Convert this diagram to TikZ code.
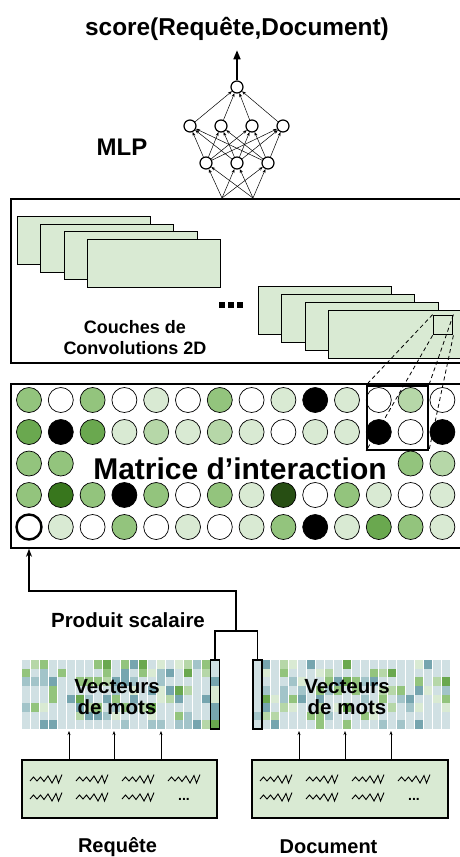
\documentclass[tikz,border=0pt]{standalone}
\usepackage{fontspec}
\setmainfont{Liberation Sans}
\usetikzlibrary{arrows.meta}

% couleurs
\definecolor{gA}{HTML}{D9EAD3}
\definecolor{gB}{HTML}{B6D7A8}
\definecolor{gC}{HTML}{93C47D}
\definecolor{gD}{HTML}{6AA84F}
\definecolor{gE}{HTML}{38761D}
\definecolor{gF}{HTML}{274E13}
\definecolor{tA}{HTML}{D0E0E3}
\definecolor{tB}{HTML}{A2C4C9}
\definecolor{tC}{HTML}{76A5AF}
\colorlet{dotw}{white}
\colorlet{dotk}{black}
\colorlet{dota}{gA}
\colorlet{dotb}{gB}
\colorlet{dotc}{gC}
\colorlet{dotd}{gD}
\colorlet{dote}{gE}
\colorlet{dotf}{gF}

\newcommand{\bsize}[1]{\bfseries\fontsize{#1}{#1}\selectfont}

\begin{document}
\begin{tikzpicture}[x=1pt,y=-1pt,
  neuron/.style={circle,draw,line width=1.2pt,fill=white,minimum size=12pt,inner sep=0pt},
  syn/.style={line width=0.5pt,-{Stealth[length=4pt,width=3pt]}},
  bigarr/.style={line width=1.6pt,-{Triangle[length=9pt,width=7pt]}},
  panel/.style={draw,line width=1.8pt,fill=white,inner sep=0pt,anchor=north west},
  fmap/.style={draw,line width=1pt,fill=gA,minimum width=133pt,minimum height=48pt,inner sep=0pt,anchor=north west},
  dot/.style={circle,draw,line width=0.7pt,minimum size=25pt,inner sep=0pt},
  winbox/.style={draw,line width=1.8pt,inner sep=0pt},
  proj/.style={line width=0.8pt,dash pattern=on 4pt off 3pt},
  hl/.style={draw,line width=1.8pt,minimum width=9pt,minimum height=69pt,inner sep=0pt},
  link/.style={line width=1.4pt},
  txtbox/.style={draw,line width=1.8pt,fill=gA,minimum height=58pt,inner sep=0pt,anchor=north west},
  thinarr/.style={line width=0.6pt,-{Stealth[length=4pt,width=3pt]}},
  wave/.pic={\draw[line width=0.9pt,line join=miter] (0,2) -- (3.5,-2) -- (7,2) -- (10.5,-2) -- (14,2.5) -- (18,-3) -- (22,4) -- (26,-3.5) -- (28.5,4) -- (32,-4.5);}
]
\useasboundingbox (0,0) rectangle (459,857);

% MLP
\node[anchor=base,inner sep=0pt,font=\bsize{24.4}] (score) at (237,35) {score(Requête,Document)};
\node[anchor=base,inner sep=0pt,font=\bsize{24}] (mlp) at (122,155) {MLP};
\node[neuron] (o1) at (237,87) {};
\foreach \x [count=\i] in {190,221,252,283}
  \node[neuron] (h\i) at (\x,126) {};
\foreach \x [count=\i] in {206,237,268}
  \node[neuron] (b\i) at (\x,163) {};
\coordinate (in1) at (222,198);
\coordinate (in2) at (253,198);
\draw[bigarr,shorten >=10pt] (o1) -- (o1 |- score.south);
\foreach \i in {1,...,4}
  \draw[syn] (h\i) -- (o1);
\foreach \i in {1,...,3}
  \foreach \j in {1,...,4}
    \draw[syn] (b\i) -- (h\j);
\foreach \k in {1,2}
  \foreach \i in {1,...,3}
    \draw[syn] (in\k) -- (b\i);

% couches de convolution
\node[panel,minimum width=470pt,minimum height=164pt] (conv) at (10,198) {};
\foreach \i in {0,...,3}
  \node[fmap] (fa\i) at ({17+23.3*\i},{216+7.7*\i}) {};
\foreach \i in {0,...,3}
  \node[fmap] (fb\i) at ({258+23.3*\i},{286+8*\i}) {};
\node[winbox,minimum size=19pt] (win) at (443,325) {};
\foreach \x in {222,231,240}
  \fill (\x-3,302) rectangle ++(6,6);
\node[align=center,inner sep=0pt,font=\bsize{18}] (convlbl) at (135,338) {Couches de\\[3pt]Convolutions 2D};

% matrice d'interaction
\node[panel,minimum width=470pt,minimum height=164pt] (mat) at (10,383) {};
\foreach \c [count=\j] in {c,w,c,w,a,w,c,w,a,k,a,w,b,w}
  \node[dot,fill=dot\c] (r1c\j) at ({29+31.8*(\j-1)},400) {};
\foreach \c [count=\j] in {d,k,d,a,b,a,b,a,w,a,a,k,w,k}
  \node[dot,fill=dot\c] (r2c\j) at ({29+31.8*(\j-1)},432) {};
\foreach \j/\c in {1/c,2/c,13/c,14/b}
  \node[dot,fill=dot\c] (r3c\j) at ({29+31.8*(\j-1)},463.5) {};
\foreach \c [count=\j] in {c,e,c,k,c,w,c,a,f,w,c,a,w,a}
  \node[dot,fill=dot\c] (r4c\j) at ({29+31.8*(\j-1)},495) {};
\foreach \c [count=\j] in {w,a,w,c,w,a,w,a,c,k,a,d,c,a}
  \node[dot,fill=dot\c] (r5c\j) at ({29+31.8*(\j-1)},527) {};
\node[dot,line width=2.4pt] at (r5c1) {};
\node[anchor=base,inner sep=0pt,font=\bsize{30}] (matlbl) at (240,479) {Matrice d’interaction};
\node[winbox,minimum width=61pt,minimum height=64pt] (bigwin) at (397.5,418) {};
\draw[proj] (win.north west) -- (bigwin.north west);
\draw[proj] (win.south west) -- (bigwin.south west);
\draw[proj] (win.north east) -- (bigwin.north east);
\draw[proj] (win.south east) -- (bigwin.south east);

% vecteurs de mots
\pgfmathsetseed{11}
\foreach \mx in {22,253}
  \foreach \col in {0,...,21}
    \foreach \row in {0,...,7} {
      \pgfmathrandominteger{\r}{0}{24}
      \ifnum\r<14 \def\cc{tA}\else\ifnum\r<17 \def\cc{tB}\else\ifnum\r<19 \def\cc{tC}\else
      \ifnum\r<21 \def\cc{gA}\else\ifnum\r<22 \def\cc{gB}\else\ifnum\r<24 \def\cc{gC}\else
      \def\cc{gD}\fi\fi\fi\fi\fi\fi
      \fill[fill=\cc] ({\mx+9*\col},{660+8.625*\row}) rectangle ++(8,8.625);
    }
\node[align=center,inner sep=0pt,font=\bsize{20.5}] (qlbl) at (117,697) {Vecteurs\\[1pt]de mots};
\node[align=center,inner sep=0pt,font=\bsize{20.5}] (dlbl) at (347,697) {Vecteurs\\[1pt]de mots};
\node[hl] (qv) at (215,694.5) {};
\node[hl] (dv) at (257.5,694.5) {};

% produit scalaire
\coordinate (join) at (236,631);
\draw[link] (qv.north) |- (join) -| (dv.north);
\draw[link,-{Stealth[length=8pt,width=6pt]}] (join) -- ++(0,-40) -| (r5c1 |- mat.south);
\node[anchor=base,inner sep=0pt,font=\bsize{20.5}] (pslbl) at (128,627) {Produit scalaire};

% requete et document
\node[txtbox,minimum width=195pt] (qbox) at (21,759) {};
\node[txtbox,minimum width=196pt] (dbox) at (251,759) {};
\foreach \x in {69,114,161}
  \draw[thinarr] (\x,0 |- qbox.north) -- (\x,731);
\foreach \x in {299,345,391}
  \draw[thinarr] (\x,0 |- dbox.north) -- (\x,731);
\foreach \o in {0,230} {
  \foreach \x in {30,76,122,168}
    \pic at ({\x+\o},779) {wave};
  \foreach \x in {30,76,122}
    \pic at ({\x+\o},797) {wave};
  \node[inner sep=0pt,font=\bsize{14}] at ({184+\o},799) {...};
}
\node[anchor=base,inner sep=0pt,font=\bsize{20}] (qname) at (117.5,852) {Requête};
\node[anchor=base,inner sep=0pt,font=\bsize{20}] (dname) at (328.5,853) {Document};

\end{tikzpicture}
\end{document}
